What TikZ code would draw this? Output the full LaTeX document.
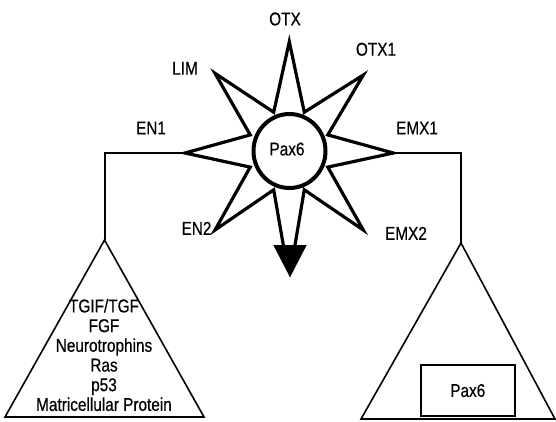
\documentclass[tikz,border=0pt]{standalone}
\usepackage{fontspec}
\setmainfont[FakeStretch=0.83,FakeBold=0.5]{Liberation Sans}
\usetikzlibrary{shapes.geometric}
\begin{document}
\begin{tikzpicture}[x=1pt,y=-1pt,
  lbl/.style={font=\fontsize{18.5}{19.7}\selectfont, inner sep=0pt, align=center},
  starline/.style={line width=3.2pt, line join=miter, miter limit=20},
  conn/.style={line width=2pt},
  tri/.style={line width=1.6pt, line join=miter}]
\useasboundingbox (0,0) rectangle (556,421);
% star tips
\coordinate (tT) at (289.3,41.7);
\coordinate (tTR) at (363.3,75);
\coordinate (tR) at (393.3,153);
\coordinate (tBR) at (363.3,230);
\coordinate (tBL) at (215,230);
\coordinate (tL) at (185,153);
\coordinate (tTL) at (215,73.3);
% inner vertices
\coordinate (i1) at (327.8,134.9);
\coordinate (i2) at (304.3,112.2);
\coordinate (i3) at (273.7,112.2);
\coordinate (i4) at (250.2,134.9);
\coordinate (i5) at (250.2,167.1);
\coordinate (i6) at (273.7,189.8);
\coordinate (i7) at (304.3,189.8);
\coordinate (i8) at (327.8,167.1);
\coordinate (bL) at (283.3,245);
\coordinate (bR) at (295,245);
% star
\draw[starline] (bR) -- (i7) -- (tBR) -- (i8) -- (tR) -- (i1) -- (tTR) -- (i2) -- (tT) -- (i3) -- (tTL) -- (i4) -- (tL) -- (i5) -- (tBL) -- (i6) -- (bL);
% arrowhead
\coordinate (aL) at (273.3,245);
\coordinate (aR) at (306.7,245);
\coordinate (aT) at (290,277.3);
\fill (aL) -- (aR) -- (aT) -- cycle;
% centre
\node[draw, line width=4pt, fill=white, ellipse, minimum width=72pt, minimum height=74pt, inner sep=0pt] (pax) at (289.5,151) {};
\node[lbl] (paxt) at (287,149) {Pax6};
% labels
\node[lbl] (otx) at (285,19) {OTX};
\node[lbl] (otx1) at (376,49.3) {OTX1};
\node[lbl] (lim) at (185,68.3) {LIM};
\node[lbl] (en1) at (151,128) {EN1};
\node[lbl] (emx1) at (417,128) {EMX1};
\node[lbl] (en2) at (196.5,228.3) {EN2};
\node[lbl] (emx2) at (406,233.3) {EMX2};
% triangles
\coordinate (lA) at (104.5,240);
\coordinate (lB1) at (5,417);
\coordinate (lB2) at (204,417);
\draw[tri] (lA) -- (lB1) -- (lB2) -- cycle;
\coordinate (rA) at (461,243);
\coordinate (rB1) at (361,419);
\coordinate (rB2) at (555,419);
\draw[tri] (rA) -- (rB1) -- (rB2) -- cycle;
% connectors
\draw[conn] (tL) -| (lA);
\draw[conn] (tR) -| (rA);
% left list
\node[lbl] (list) at (104,355) {TGIF/TGF\\FGF\\Neurotrophins\\Ras\\p53\\Matricellular Protein};
% box
\node[draw, line width=1.6pt, minimum width=94pt, minimum height=51pt, inner sep=0pt, font=\fontsize{18.5}{19.7}\selectfont] (box) at (467.8,390.5) {Pax6};
\end{tikzpicture}
\end{document}
